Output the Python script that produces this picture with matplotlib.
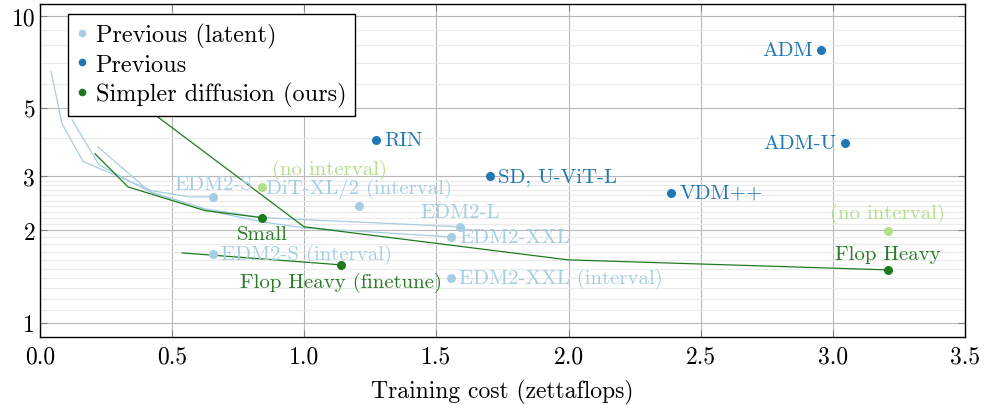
import numpy as np
import matplotlib
matplotlib.use("Agg")
import matplotlib.pyplot as plt
from matplotlib.lines import Line2D

plt.rcParams['font.family'] = 'serif'
plt.rcParams['font.serif'] = ['cmr10', 'DejaVu Serif']
plt.rcParams['axes.formatter.use_mathtext'] = True

# couleurs
light_blue = '#a6cee3'
dark_blue = '#1f78b4'
light_green = '#b2df8a'
dark_green = '#1f7a1f'

# previous (latent) : points
latent_names = ['EDM2-S', 'EDM2-S (interval)', 'DiT-XL/2 (interval)', 'EDM2-L', 'EDM2-XXL', 'EDM2-XXL (interval)']
latent_x = [0.655, 0.655, 1.207, 1.589, 1.555, 1.555]
latent_y = [2.57, 1.68, 2.40, 2.055, 1.905, 1.40]

# previous (latent) : courbes
curveA_x = [0.042, 0.083, 0.163, 0.424, 0.568, 0.655]
curveA_y = [6.57, 4.45, 3.35, 2.69, 2.57, 2.57]
curveB_x = [0.121, 0.223, 0.416, 0.624, 0.844, 1.097, 1.589]
curveB_y = [4.58, 3.27, 2.67, 2.35, 2.20, 2.15, 2.055]
curveC_x = [0.219, 0.416, 0.655, 0.844, 0.995, 1.555]
curveC_y = [3.74, 2.67, 2.30, 2.13, 2.04, 1.905]

# "no interval" points
nointerval_x = [0.84, 3.208]
nointerval_y = [2.77, 1.99]

# previous (pixel space)
prev_names = ['ADM', 'ADM-U', 'RIN', 'SD, U-ViT-L', 'VDM++']
prev_x = [2.955, 3.046, 1.271, 1.703, 2.387]
prev_y = [7.75, 3.86, 3.95, 3.01, 2.65]

# simpler diffusion (ours)
ours_names = ['Small', 'Flop Heavy (finetune)', 'Flop Heavy']
ours_x = [0.84, 1.139, 3.208]
ours_y = [2.20, 1.545, 1.488]

small_curve_x = [0.208, 0.333, 0.624, 0.84]
small_curve_y = [3.55, 2.77, 2.32, 2.20]
heavy_curve_x = [0.30, 0.454, 0.999, 1.998, 3.208]
heavy_curve_y = [5.83, 4.62, 2.055, 1.604, 1.488]
finetune_curve_x = [0.537, 1.139]
finetune_curve_y = [1.69, 1.545]

# placement des labels (decalage en points, alignement)
label_pos = {
    'EDM2-S': (0, 3, 'center', 'bottom'),
    'EDM2-S (interval)': (6, 0, 'left', 'center'),
    'DiT-XL/2 (interval)': (0, 6, 'center', 'bottom'),
    'EDM2-L': (0, 4, 'center', 'bottom'),
    'EDM2-XXL': (6, 0, 'left', 'center'),
    'EDM2-XXL (interval)': (6, 0, 'left', 'center'),
    'ADM': (-6, 0, 'right', 'center'),
    'ADM-U': (-6, 0, 'right', 'center'),
    'RIN': (6, 0, 'left', 'center'),
    'SD, U-ViT-L': (6, 0, 'left', 'center'),
    'VDM++': (6, 0, 'left', 'center'),
    'Small': (0, -5, 'center', 'top'),
    'Flop Heavy (finetune)': (0, -5, 'center', 'top'),
    'Flop Heavy': (0, 5, 'center', 'bottom'),
}
label_fs = 15

fig = plt.figure(figsize=(9.84, 4.06), dpi=100)
ax = fig.add_axes([0.0407, 0.1675, 0.94, 0.82])

lw = 0.9
ax.plot(curveA_x, curveA_y, color=light_blue, lw=lw, zorder=2)
ax.plot(curveB_x, curveB_y, color=light_blue, lw=lw, zorder=2)
ax.plot(curveC_x, curveC_y, color=light_blue, lw=lw, zorder=2)
ax.plot(small_curve_x, small_curve_y, color=dark_green, lw=lw, zorder=3)
ax.plot(heavy_curve_x, heavy_curve_y, color=dark_green, lw=lw, zorder=3)
ax.plot(finetune_curve_x, finetune_curve_y, color=dark_green, lw=lw, zorder=3)

ms = 6.5
ax.plot(latent_x, latent_y, 'o', color=light_blue, ms=ms, mew=0, zorder=4)
ax.plot(nointerval_x, nointerval_y, 'o', color=light_green, ms=ms, mew=0, zorder=4)
ax.plot(prev_x, prev_y, 'o', color=dark_blue, ms=ms, mew=0, zorder=4)
ax.plot(ours_x, ours_y, 'o', color=dark_green, ms=ms, mew=0, zorder=4)

def put_labels(names, xs, ys, color):
    for n, x, y in zip(names, xs, ys):
        dx, dy, ha, va = label_pos[n]
        ax.annotate(n, (x, y), xytext=(dx, dy), textcoords='offset points',
                    ha=ha, va=va, color=color, fontsize=label_fs, zorder=5)

put_labels(latent_names, latent_x, latent_y, light_blue)
put_labels(prev_names, prev_x, prev_y, dark_blue)
put_labels(ours_names, ours_x, ours_y, '#2a7a2a')

# (no interval)
ax.annotate('(no interval)', (nointerval_x[0], nointerval_y[0]), xytext=(7, 6),
            textcoords='offset points', ha='left', va='bottom', color=light_green, fontsize=label_fs)
ax.annotate('(no interval)', (nointerval_x[1], nointerval_y[1]), xytext=(0, 6),
            textcoords='offset points', ha='center', va='bottom', color=light_green, fontsize=label_fs)

ax.set_yscale('log')
ax.set_xlim(0, 3.5)
ax.set_ylim(0.9, 10.9)
ax.set_xticks(np.arange(0, 3.51, 0.5))
ax.set_xticklabels(['%.1f' % v for v in np.arange(0, 3.51, 0.5)])
yt = [1, 2, 3, 5, 10]
ax.set_yticks(yt)
ax.set_yticklabels([str(v) for v in yt])
minor = list(np.arange(1.1, 3.0, 0.1)) + [4, 6, 7, 8, 9]
minor = [m for m in minor if abs(m - 2) > 1e-6]
ax.set_yticks(minor, minor=True)
ax.set_yticklabels([], minor=True)
ax.tick_params(axis='both', which='major', direction='in', length=5, top=True, right=True,
               labelsize=17, color='#808080')
ax.tick_params(axis='x', which='major', pad=6)
ax.tick_params(axis='y', which='minor', length=0)
ax.grid(True, which='major', color='#b8b8b8', lw=0.8)
ax.grid(True, which='minor', axis='y', color='#ebebeb', lw=0.8)
ax.set_axisbelow(True)
for s in ax.spines.values():
    s.set_linewidth(1.0)

ax.set_xlabel('Training cost (zettaflops)', fontsize=17, labelpad=8)

handles = [Line2D([], [], ls='', marker='o', color=light_blue, ms=5.5, mew=0),
           Line2D([], [], ls='', marker='o', color=dark_blue, ms=5.5, mew=0),
           Line2D([], [], ls='', marker='o', color=dark_green, ms=5.5, mew=0)]
leg = ax.legend(handles, ['Previous (latent)', 'Previous', 'Simpler diffusion (ours)'],
                loc='upper left', bbox_to_anchor=(0.030, 0.970), borderaxespad=0,
                fancybox=False, edgecolor='black', framealpha=1, fontsize=17.5,
                handlelength=0.5, handletextpad=0.3, borderpad=0.35, labelspacing=0.25)
leg.get_frame().set_linewidth(1.0)
leg.set_zorder(10)

plt.savefig('out.png', dpi=100)
